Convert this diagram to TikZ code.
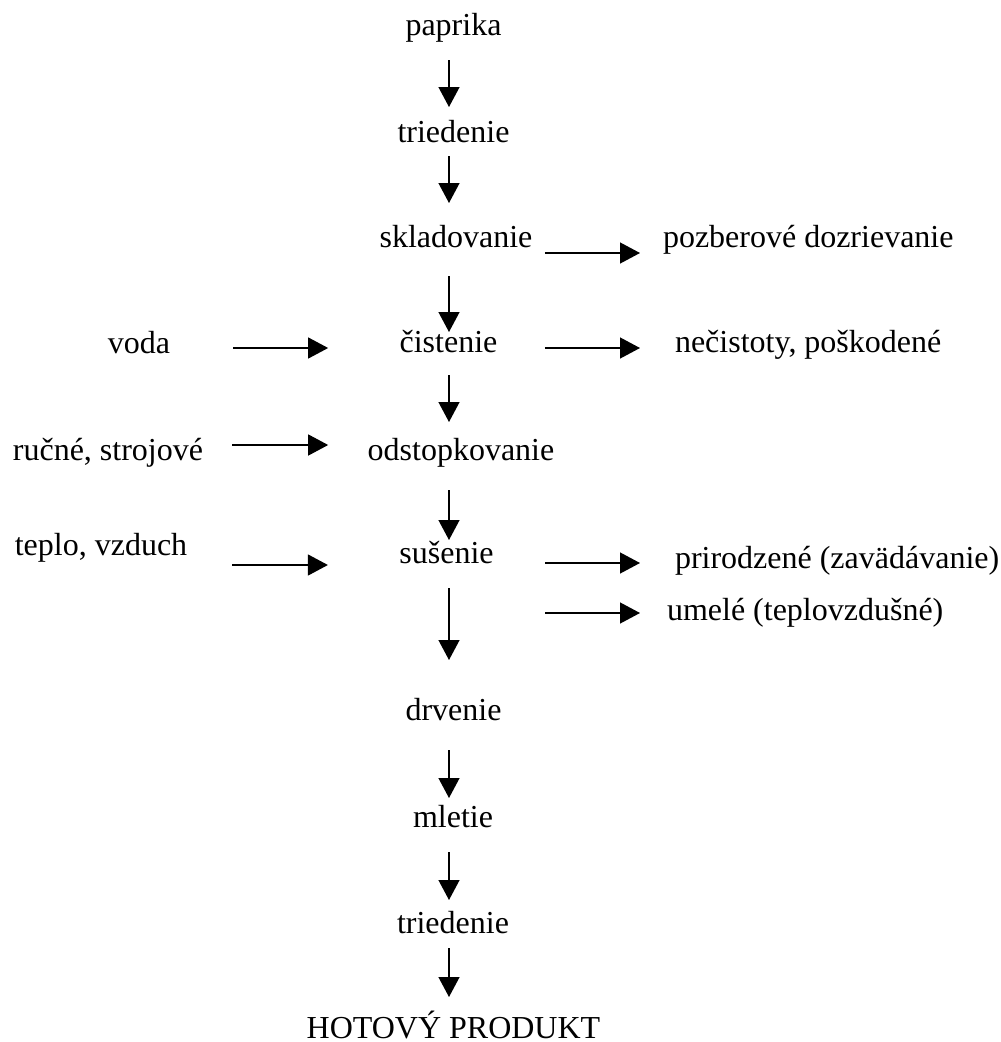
\documentclass[tikz,border=0pt]{standalone}
\usepackage{fontspec}
\setmainfont{Liberation Serif}
\usetikzlibrary{arrows.meta}
\begin{document}
\begin{tikzpicture}[x=1pt,y=-1pt,
  lbl/.style={inner sep=0pt,outer sep=0pt,font=\fontsize{32}{38}\selectfont},
  arr/.style={line width=1.3pt,-{Triangle[length=20pt,width=21pt]}}]
\useasboundingbox (0,0) rectangle (1001,1042);
\coordinate (colx) at (449,0);
% main column
\node[lbl,anchor=base] (paprika) at (453.5,35) {paprika};
\node[lbl,anchor=base] (tried1) at (453.5,142) {triedenie};
\node[lbl,anchor=base] (sklad) at (456,247) {skladovanie};
\node[lbl,anchor=base] (cist) at (448.5,352) {čistenie};
\node[lbl,anchor=base] (odst) at (461,460) {odstopkovanie};
\node[lbl,anchor=base] (sus) at (446.5,563) {sušenie};
\node[lbl,anchor=base] (drv) at (453.5,720) {drvenie};
\node[lbl,anchor=base] (mlet) at (453,827) {mletie};
\node[lbl,anchor=base] (tried2) at (453,933) {triedenie};
\node[lbl,anchor=base,text depth=0pt] (hotovy) at (453.5,1038) {HOTOVÝ PRODUKT};
% left inputs
\node[lbl,anchor=base] (voda) at (139,353) {voda};
\node[lbl,anchor=base] (rucne) at (108,460) {ručné, strojové};
\node[lbl,anchor=base] (teplo) at (101,555) {teplo, vzduch};
% right outputs
\node[lbl,anchor=base west] (pozber) at (663,247) {pozberové dozrievanie};
\node[lbl,anchor=base west] (necist) at (675,352) {nečistoty, poškodené};
\node[lbl,anchor=base west] (prirod) at (675,568) {prirodzené (zavädávanie)};
\node[lbl,anchor=base west] (umele) at (667,620) {umelé (teplovzdušné)};
% vertical connectors
\draw[arr,shorten <=25pt,shorten >=35pt] (paprika.base -| colx) -- (tried1.base -| colx);
\draw[arr,shorten <=14pt,shorten >=44pt] (tried1.base -| colx) -- (sklad.base -| colx);
\draw[arr,shorten <=29pt,shorten >=20pt] (sklad.base -| colx) -- (cist.base -| colx);
\draw[arr,shorten <=23pt,shorten >=38pt] (cist.base -| colx) -- (odst.base -| colx);
\draw[arr,shorten <=30pt,shorten >=23pt] (odst.base -| colx) -- (sus.base -| colx);
\draw[arr,shorten <=25pt,shorten >=60pt] (sus.base -| colx) -- (drv.base -| colx);
\draw[arr,shorten <=30pt,shorten >=29pt] (drv.base -| colx) -- (mlet.base -| colx);
\draw[arr,shorten <=25pt,shorten >=33pt] (mlet.base -| colx) -- (tried2.base -| colx);
\draw[arr,shorten <=15pt,shorten >=41pt] (tried2.base -| colx) -- (hotovy.base -| colx);
% horizontal connectors
\draw[arr] ([shift={(12.5,6)}]sklad.base east) -- ([shift={(-23,6)}]pozber.base west);
\draw[arr] ([shift={(63,-5)}]voda.base east) -- ([shift={(-71.5,-4)}]cist.base west);
\draw[arr] ([shift={(47.5,-4)}]cist.base east) -- ([shift={(-35,-4)}]necist.base west);
\draw[arr] ([shift={(29,-15)}]rucne.base east) -- ([shift={(-39.5,-15)}]odst.base west);
\draw[arr] ([shift={(45,10)}]teplo.base east) -- ([shift={(-71.5,2)}]sus.base west);
\draw[arr] ([shift={(51.5,0)}]sus.base east) -- ([shift={(-35,-5)}]prirod.base west);
\draw[arr] ([shift={(51.5,50)}]sus.base east) -- ([shift={(-27,-7)}]umele.base west);
\end{tikzpicture}
\end{document}
